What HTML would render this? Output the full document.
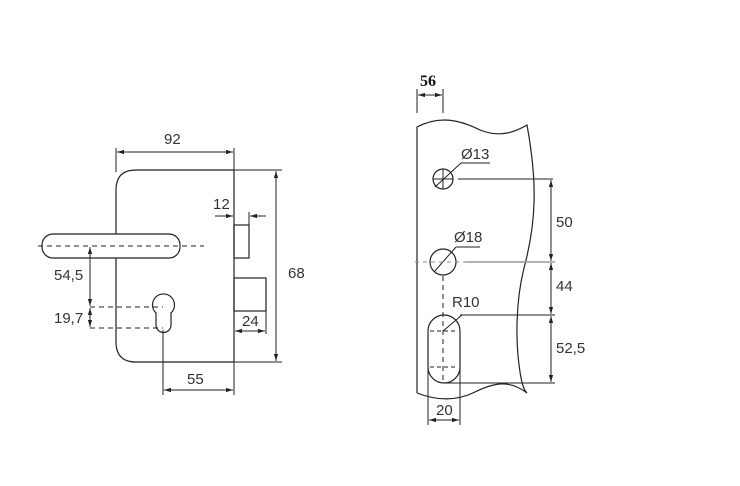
<!DOCTYPE html>
<html><head><meta charset="utf-8"><style>
html,body{margin:0;padding:0;background:#fff;}
svg{display:block;}
text{font-family:"Liberation Sans",sans-serif;font-size:15px;fill:#333;}
</style></head><body>
<svg width="740" height="486" viewBox="0 0 740 486" xmlns="http://www.w3.org/2000/svg">
<defs>
<marker id="a" viewBox="0 0 10 10" refX="10" refY="5" markerWidth="7" markerHeight="7" orient="auto-start-reverse"><path d="M0,2 L10,5 L0,8 z" fill="#222"/></marker>
</defs>
<g fill="none" stroke="#222" stroke-width="1.2">
<path d="M234,170 H136 Q116,170 116,190 V342 Q116,362 136,362 H234 Z"/>
<rect x="42" y="234" width="138" height="24" rx="11" fill="#fff"/>
<line x1="38" y1="246" x2="204" y2="246" stroke-dasharray="5,4" stroke-width="1"/>
<rect x="234" y="225" width="15" height="33"/>
<rect x="234" y="278" width="32" height="33"/>
<path d="M156,313 A11,11 0 1 1 171,313 V325 A7.5,7.5 0 0 1 156,325 Z"/>
<g stroke-width="1">
<line x1="116" y1="148" x2="116" y2="172"/>
<line x1="234" y1="148" x2="234" y2="170"/>
<line x1="117" y1="152" x2="233" y2="152" marker-start="url(#a)" marker-end="url(#a)"/>
<line x1="215" y1="216" x2="233" y2="216" marker-end="url(#a)"/>
<line x1="266" y1="216" x2="250" y2="216" marker-end="url(#a)"/>
<line x1="249" y1="212" x2="249" y2="225"/>
<line x1="234" y1="170" x2="282" y2="170"/>
<line x1="234" y1="362" x2="282" y2="362"/>
<line x1="276" y1="171" x2="276" y2="361" marker-start="url(#a)" marker-end="url(#a)"/>
<line x1="266" y1="311" x2="266" y2="334"/>
<line x1="235" y1="331" x2="265" y2="331" marker-start="url(#a)" marker-end="url(#a)"/>
<line x1="90" y1="247" x2="90" y2="306" marker-start="url(#a)" marker-end="url(#a)"/>
<line x1="90" y1="308" x2="90" y2="327" marker-start="url(#a)" marker-end="url(#a)"/>
<line x1="90" y1="307" x2="163" y2="307" stroke-dasharray="5,4"/>
<line x1="90" y1="328" x2="163" y2="328" stroke-dasharray="5,4"/>
<line x1="163" y1="330" x2="163" y2="395"/>
<line x1="234" y1="362" x2="234" y2="395"/>
<line x1="164" y1="390" x2="233" y2="390" marker-start="url(#a)" marker-end="url(#a)"/>
</g>
<path d="M417,393 V127 C440,115 460,120 480,130 C500,138 515,132 527,125 C537,180 537,220 524,268 C516,300 515,340 520,372 C522,385 524,390 527,393 C510,380 495,382 475,392 C455,402 435,400 417,393"/>
<circle cx="443" cy="179" r="10"/>
<circle cx="443" cy="262" r="13"/>
<path d="M428,331 A16,16 0 0 1 460,331 V367 A16,16 0 0 1 428,367 Z"/>
<g stroke-width="1">
<line x1="417" y1="89" x2="417" y2="113"/>
<line x1="443" y1="89" x2="443" y2="113"/>
<line x1="418" y1="95" x2="442" y2="95" marker-start="url(#a)" marker-end="url(#a)"/>
<line x1="435" y1="187" x2="461" y2="163"/><line x1="461" y1="163" x2="490" y2="163"/>
<line x1="433" y1="179" x2="453" y2="179"/><line x1="443" y1="169" x2="443" y2="189"/>
<line x1="458" y1="179" x2="553" y2="179"/>
<line x1="434" y1="272" x2="456" y2="247"/><line x1="456" y1="247" x2="480" y2="247"/>
<line x1="415" y1="262" x2="470" y2="262" stroke="#888" stroke-dasharray="4,4"/>
<line x1="465" y1="262" x2="555" y2="262" stroke="#999" stroke-width="1.5"/>
<line x1="443" y1="276" x2="443" y2="382" stroke-dasharray="5,4"/>
<line x1="430" y1="331" x2="458" y2="331" stroke-dasharray="4,3"/>
<line x1="430" y1="367" x2="458" y2="367" stroke-dasharray="4,3"/>
<line x1="443" y1="331" x2="462" y2="315"/><line x1="462" y1="315" x2="480" y2="315"/>
<line x1="460" y1="315" x2="555" y2="315"/>
<line x1="443" y1="383" x2="555" y2="383"/>
<line x1="551" y1="180" x2="551" y2="261" marker-start="url(#a)" marker-end="url(#a)"/>
<line x1="551" y1="263" x2="551" y2="314" marker-start="url(#a)" marker-end="url(#a)"/>
<line x1="551" y1="316" x2="551" y2="382" marker-start="url(#a)" marker-end="url(#a)"/>
<line x1="428" y1="367" x2="428" y2="425"/>
<line x1="460" y1="367" x2="460" y2="425"/>
<line x1="429" y1="420" x2="459" y2="420" marker-start="url(#a)" marker-end="url(#a)"/>
</g>
</g>
<text x="164" y="144">92</text>
<text x="213" y="209">12</text>
<text x="288" y="278">68</text>
<text x="242" y="326">24</text>
<text x="54" y="280">54,5</text>
<text x="54" y="323">19,7</text>
<text x="187" y="384">55</text>
<text x="420" y="86" style="font-family:'Liberation Serif',serif;font-weight:bold;font-size:16px;fill:#111">56</text>
<text x="461" y="159">Ø13</text>
<text x="454" y="242">Ø18</text>
<text x="452" y="307">R10</text>
<text x="556" y="227">50</text>
<text x="556" y="291">44</text>
<text x="556" y="353">52,5</text>
<text x="436" y="415">20</text>
</svg>
</body></html>
